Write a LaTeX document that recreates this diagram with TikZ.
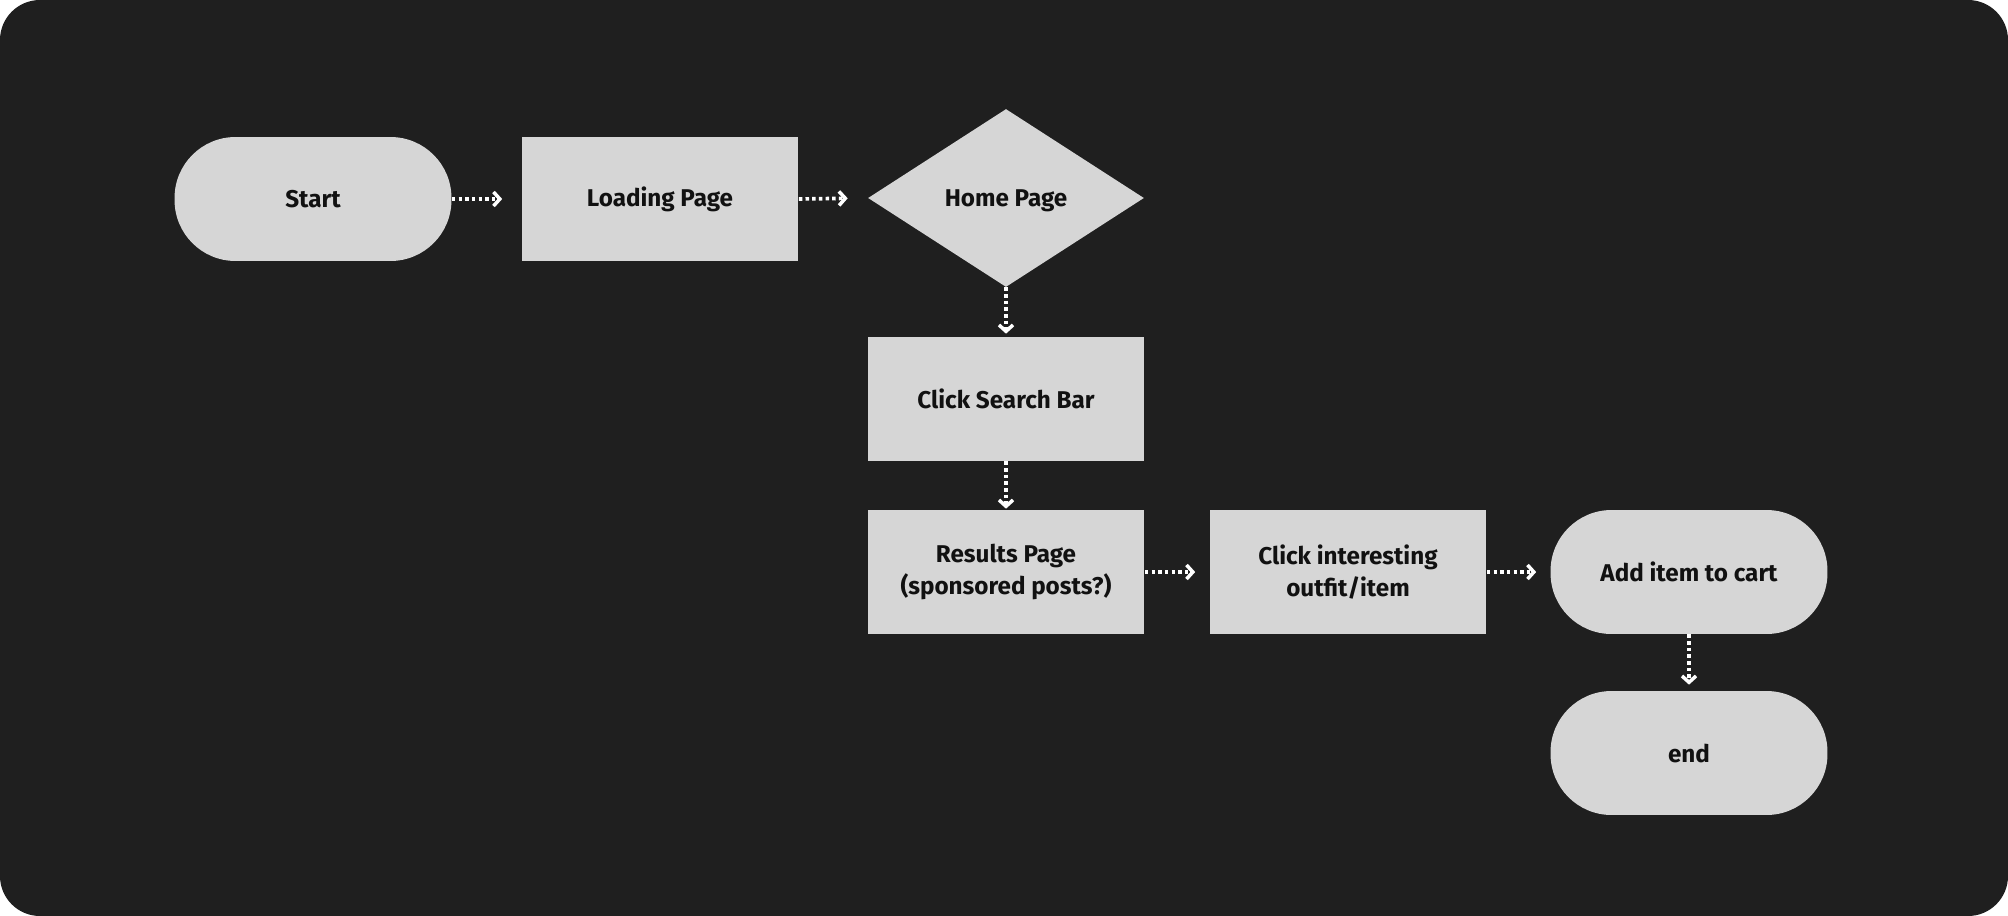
\documentclass[tikz,border=0pt]{standalone}
\usepackage{fontspec}
\setmainfont{Fira Sans}
\usetikzlibrary{shapes.geometric,arrows.meta}
\definecolor{canvas}{HTML}{1F1F1F}
\definecolor{boxfill}{HTML}{D6D6D6}
\definecolor{ink}{HTML}{111111}
\begin{document}
\begin{tikzpicture}[x=0.02cm,y=-0.02cm,
  base/.style={fill=boxfill, draw=none, text=ink, inner sep=0pt,
    font=\fontsize{13.8}{18.5}\selectfont\bfseries, align=center},
  terminal/.style={base, rectangle, rounded corners=1.22cm,
    minimum width=5.54cm, minimum height=2.48cm},
  process/.style={base, rectangle, minimum width=5.54cm, minimum height=2.48cm},
  decision/.style={base, diamond, aspect=1.55, minimum width=5.52cm, minimum height=3.56cm,
    text depth=0pt},
  flow/.style={draw=white, line width=2.1pt, dash pattern=on 2pt off 1.8pt,
    -{Straight Barb[length=3.6pt, width=8pt, line width=2pt]}}
]
  % page background with rounded dark panel
  \useasboundingbox (0,0) rectangle (2008,916);
  \fill[white] (0,0) rectangle (2008,916);
  \fill[canvas, rounded corners=0.8cm] (0,0) rectangle (2008,916);

  % flowchart steps
  \node[terminal] (start)   at (313,199)  {Start};
  \node[process]  (loading) at (660,199)  {Loading Page};
  \node[decision] (home)    at (1006,198) {Home Page};
  \node[process]  (search)  at (1006,399) {Click Search Bar};
  \node[process]  (results) at (1006,572) {Results Page\\(sponsored posts?)};
  \node[process]  (click)   at (1348,572) {Click interesting\\outfit/item};
  \node[terminal] (cart)    at (1689,572) {Add item to cart};
  \node[terminal] (finish)  at (1689,753) {end};

  % connectors
  \draw[flow, shorten >=0.38cm] (start.east)   -- (loading.west);
  \draw[flow, shorten >=0.40cm] (loading.east) -- (home.west);
  \draw[flow, shorten >=0.06cm] (home.south)   -- (search.north);
  \draw[flow, shorten >=0.02cm] (search.south) -- (results.north);
  \draw[flow, shorten >=0.28cm] (results.east) -- (click.west);
  \draw[flow, shorten >=0.28cm] (click.east)   -- (cart.west);
  \draw[flow, shorten >=0.12cm] (cart.south)   -- (finish.north);
\end{tikzpicture}
\end{document}
